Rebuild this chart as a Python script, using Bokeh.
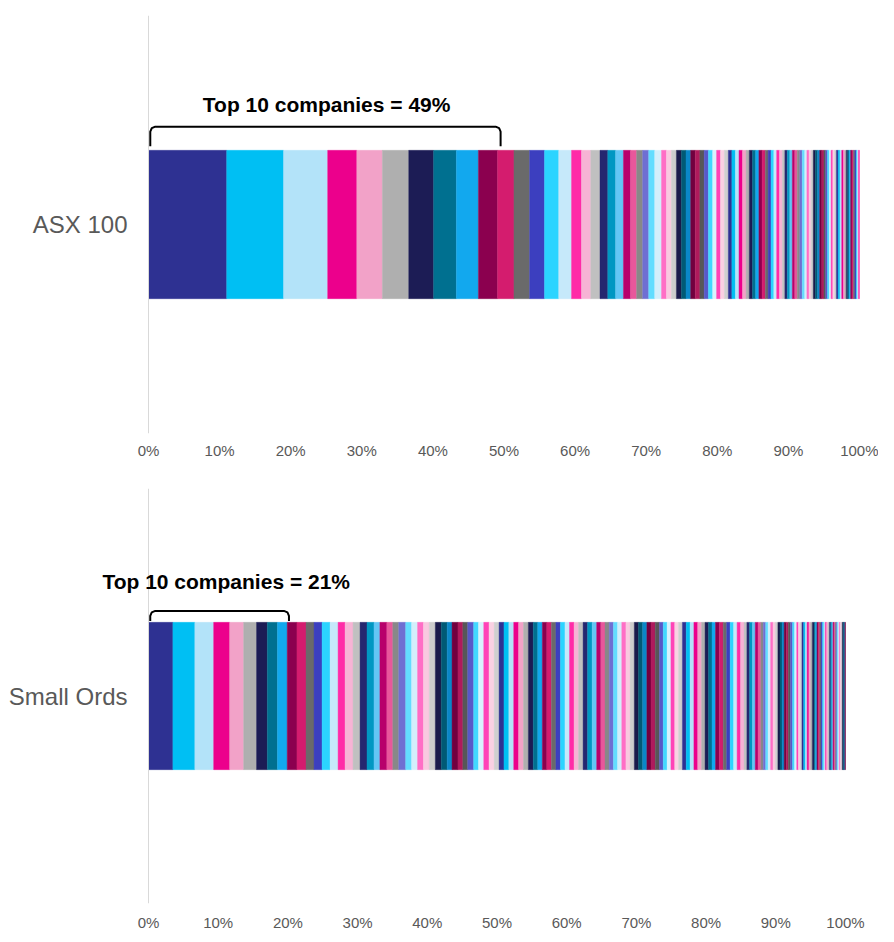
import numpy as np
from bokeh.plotting import figure
from bokeh.models import Range1d, FixedTicker, ColumnDataSource, Label, Span
from bokeh.layouts import column
from bokeh.embed import file_html
from bokeh.resources import INLINE

# ---------------- data ----------------
categories = ["ASX 100", "Small Ords"]

# company weights (% of index), largest first
asx100_weights = [
    11.0, 8.0, 6.2, 4.1, 3.6, 3.7, 3.5, 3.2, 3.1, 2.7,
    2.3, 2.2, 2.1, 2.0, 1.8, 1.4, 1.3, 1.3, 1.1, 1.1,
    1.1, 1.0, 0.85, 0.85, 0.85, 0.85, 0.95, 0.7, 0.7, 0.7,
    0.7, 0.65, 0.65, 0.65, 0.65, 0.6, 0.6, 0.6, 0.55, 0.55,
    0.55, 0.55, 0.5, 0.5, 0.5, 0.5, 0.5, 0.45, 0.45, 0.45,
    0.45, 0.45, 0.45, 0.4, 0.4, 0.4, 0.4, 0.4, 0.4, 0.35,
    0.35, 0.35, 0.35, 0.35, 0.35, 0.35, 0.35, 0.35, 0.3, 0.3,
    0.3, 0.3, 0.3, 0.3, 0.3, 0.3, 0.3, 0.25, 0.25, 0.25,
    0.25, 0.25, 0.25, 0.25, 0.25, 0.25, 0.25, 0.25, 0.2, 0.2,
    0.2, 0.2, 0.2, 0.2, 0.2, 0.2, 0.2, 0.15, 0.15, 0.15,
]

small_ords_weights = [
    3.5, 3.15, 2.7, 2.3, 2.0, 1.85, 1.55, 1.45, 1.4, 1.4,
    1.3, 1.15, 1.15, 1.15, 1.15, 1.0, 1.15, 1.0, 1.0, 1.0,
    0.85, 1.0, 0.85, 0.85, 1.0, 0.85, 0.85, 0.85, 0.85, 0.85,
    0.85, 0.85, 0.7, 0.85, 0.7, 0.7, 0.85, 0.7, 0.75, 0.75,
    0.75, 0.7, 0.7, 0.7, 0.7, 0.7, 0.7, 0.7, 0.7, 0.65,
    0.65, 0.65, 0.65, 0.65, 0.65, 0.65, 0.65, 0.65, 0.65, 0.65,
    0.65, 0.65, 0.65, 0.6, 0.6, 0.6, 0.6, 0.6, 0.6, 0.6,
    0.6, 0.6, 0.6, 0.6, 0.6, 0.6, 0.6, 0.6, 0.55, 0.55,
    0.55, 0.55, 0.55, 0.55, 0.55, 0.55, 0.55, 0.55, 0.55, 0.5,
    0.5, 0.5, 0.5,
    0.55, 0.55, 0.5, 0.5, 0.5, 0.5, 0.5, 0.5, 0.4, 0.4,
    0.4, 0.4, 0.4, 0.4, 0.35, 0.35, 0.35, 0.35, 0.35, 0.35,
    0.35, 0.3, 0.3, 0.3, 0.3, 0.3, 0.3, 0.3, 0.3, 0.3,
    0.25, 0.25, 0.25, 0.25, 0.25, 0.25, 0.25, 0.25, 0.25, 0.25,
    0.2, 0.2, 0.2, 0.2, 0.2, 0.2, 0.2, 0.2, 0.2, 0.2,
    0.2, 0.2, 0.15, 0.15, 0.15, 0.15, 0.15, 0.15, 0.15, 0.15,
    0.15, 0.15, 0.15, 0.15, 0.1, 0.1, 0.1,
]

tick_values = [0, 10, 20, 30, 40, 50, 60, 70, 80, 90, 100]
tick_labels = ["0%", "10%", "20%", "30%", "40%", "50%", "60%", "70%", "80%", "90%", "100%"]

# ---------------- style ----------------
PALETTE = [
    "#2E3192", "#00BFF3", "#B3E3F9", "#EC008C", "#F2A2C8", "#AFAFAF",
    "#1C1C55", "#007090", "#12A8EE", "#8B004F", "#D41C6E", "#6A6A6A",
    "#3C3FBF", "#2BD4FF", "#C6E9FA", "#FF2BA7", "#F7B3D5", "#C0C0C0",
    "#25276F", "#0097C2", "#63C6F5", "#B8006B", "#E8579B", "#888888",
    "#6F6FD2", "#63DDFF", "#D4EFFB", "#FF6EC6", "#F9C9E0", "#CDCDCD",
    "#1A1A4B", "#005A75", "#0A87C8", "#72003F", "#AF1A5C", "#575757",
    "#5858C8", "#41D8FF", "#D9F3FD", "#FF43B7", "#FAD1E3", "#CFCFCF",
]
FONT = "Liberation Sans"
GREY = "#595959"
BAR_H = 0.355
FIG_W = 878
LEFT_PX = 148  # pixels from figure left edge to the 0% line


def build(category, weights, px_per_pct, height, border_top, border_bottom,
          label_standoff, bracket_hi, bracket_lo, bracket_pad_px, title_y):
    w = np.array(weights, dtype=float)
    right = np.cumsum(w)
    left = right - w
    colors = [PALETTE[i % len(PALETTE)] for i in range(len(w))]
    src = ColumnDataSource(dict(left=left, right=right, color=colors))

    xmin = -LEFT_PX / px_per_pct
    xmax = xmin + FIG_W / px_per_pct

    p = figure(width=FIG_W, height=height,
               x_range=Range1d(xmin, xmax), y_range=Range1d(0, 1),
               output_backend="svg", toolbar_location=None, y_axis_location=None,
               min_border_left=0, min_border_right=0,
               min_border_top=border_top, min_border_bottom=border_bottom)
    p.hbar(y=0.5, left="left", right="right", height=BAR_H, source=src,
           fill_color="color", line_color="color", line_width=0.4)

    p.xgrid.visible = False
    p.ygrid.visible = False
    p.outline_line_color = None
    p.background_fill_color = "white"
    p.border_fill_color = "white"

    xa = p.xaxis[0]
    xa.ticker = FixedTicker(ticks=tick_values)
    xa.major_label_overrides = {v: lab for v, lab in zip(tick_values, tick_labels)}
    xa.axis_line_color = None
    xa.major_tick_line_color = None
    xa.minor_tick_line_color = None
    xa.major_label_text_font = FONT
    xa.major_label_text_font_size = "15px"
    xa.major_label_text_color = GREY
    xa.major_label_standoff = label_standoff

    # category axis line and label
    p.add_layout(Span(location=0, dimension="height", line_color="#D9D9D9",
                      line_width=1))
    p.add_layout(Label(x=0, y=0.5, x_offset=-21, text=category,
                       text_align="right", text_baseline="middle",
                       text_font=FONT, text_font_size="24px", text_color=GREY))

    # bracket over the top 10 companies
    top10 = float(right[9])
    rx = 5.0 / px_per_pct
    ry = 5.0 / (height - border_top - border_bottom)
    x0, x1 = 0.25, top10 + bracket_pad_px / px_per_pct
    bx = [x0, x0, x0 + rx * 0.3, x0 + rx, x1 - rx, x1 - rx * 0.3, x1, x1]
    by = [bracket_lo, bracket_hi - ry, bracket_hi - ry * 0.3, bracket_hi,
          bracket_hi, bracket_hi - ry * 0.3, bracket_hi - ry, bracket_lo]
    p.line(bx, by, line_color="black", line_width=2, line_join="round")

    label = f"Top 10 companies = {round(top10)}%"
    p.add_layout(Label(x=top10 / 2.0 + 0.5, y=title_y, text=label,
                       text_align="center", text_baseline="middle",
                       text_font=FONT, text_font_style="bold",
                       text_font_size="21px", text_color="black"))
    return p


p1 = build(categories[0], asx100_weights, px_per_pct=7.11, height=470,
           border_top=15, border_bottom=37, label_standoff=2,
           bracket_hi=0.734, bracket_lo=0.687, bracket_pad_px=3, title_y=0.787)
p2 = build(categories[1], small_ords_weights, px_per_pct=6.97, height=463,
           border_top=18, border_bottom=28, label_standoff=4,
           bracket_hi=0.705, bracket_lo=0.681, bracket_pad_px=-8, title_y=0.777)

layout = column(p1, p2, spacing=0)
open("out.html", "w").write(file_html(layout, INLINE))
